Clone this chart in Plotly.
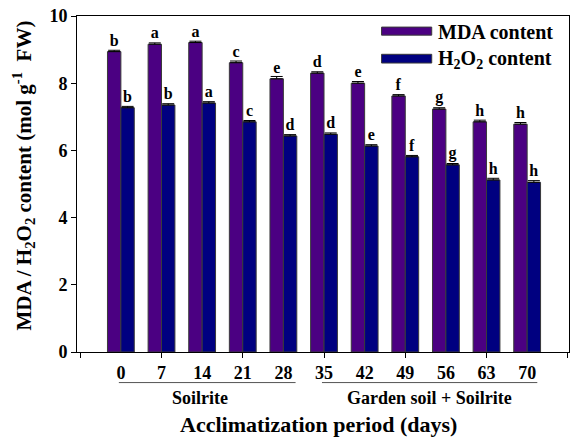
import plotly.graph_objects as go

days = ["0", "7", "14", "21", "28", "35", "42", "49", "56", "63", "70"]
mda = [8.94, 9.16, 9.21, 8.61, 8.13, 8.30, 8.00, 7.62, 7.23, 6.85, 6.78]
h2o2 = [7.27, 7.35, 7.41, 6.85, 6.43, 6.48, 6.13, 5.81, 5.57, 5.12, 5.05]
mda_err = [0.04, 0.04, 0.04, 0.05, 0.07, 0.04, 0.05, 0.04, 0.04, 0.05, 0.05]
h2o2_err = [0.04, 0.04, 0.04, 0.04, 0.04, 0.04, 0.04, 0.04, 0.04, 0.05, 0.05]
mda_letters = ["b", "a", "a", "c", "e", "d", "e", "f", "g", "h", "h"]
h2o2_letters = ["b", "b", "a", "c", "d", "d", "e", "f", "g", "h", "h"]
series_names = ["MDA content", "H<sub>2</sub>O<sub>2</sub> content"]
group_labels = ["Soilrite", "Garden soil + Soilrite"]
y_ticks = [0, 2, 4, 6, 8, 10]

PURPLE = "#4B0082"
NAVY = "#000080"
FONT = "Liberation Serif"

pos = list(range(len(days)))

fig = go.Figure()
for vals, errs, letters, color, name in [
    (mda, mda_err, mda_letters, PURPLE, series_names[0]),
    (h2o2, h2o2_err, h2o2_letters, NAVY, series_names[1]),
]:
    fig.add_trace(go.Bar(
        x=pos, y=vals, name=name,
        marker=dict(color=color, line=dict(color="#3a3a3a", width=1)),
        error_y=dict(type="data", symmetric=False, array=errs,
                     arrayminus=[0] * len(errs), color="black",
                     thickness=1, width=6),
        text=[f"<b>{t}</b>" for t in letters], textposition="outside",
        textfont=dict(family=FONT, size=16, color="black"),
        constraintext="none", cliponaxis=False, showlegend=False,
    ))

xr = [-1.08, 11.03]
fig.update_layout(
    width=574, height=438,
    margin=dict(l=77, r=5, t=16, b=86),
    paper_bgcolor="white", plot_bgcolor="white",
    barmode="group", bargap=0.34, bargroupgap=0,
    font=dict(family=FONT, color="black"),
    xaxis=dict(range=xr, tickmode="array", tickvals=pos,
               ticktext=[f"<b>{d}</b>" for d in days],
               ticks="outside", ticklen=4, tickcolor="rgba(0,0,0,0)",
               tickfont=dict(family=FONT, size=18, color="black"),
               showline=True, linecolor="black", linewidth=1, mirror=True,
               showgrid=False, zeroline=False, fixedrange=True, automargin=False),
    xaxis2=dict(range=xr, overlaying="x", anchor="y", side="bottom",
                tickmode="array", tickvals=[-1, 1, 3, 5, 7, 9, 11],
                ticks="outside", ticklen=5, tickcolor="black",
                showticklabels=False, showline=False, showgrid=False,
                zeroline=False, automargin=False),
    yaxis=dict(range=[0, 10], tickmode="array", tickvals=y_ticks,
               ticktext=[f"<b>{v}</b>" for v in y_ticks],
               ticks="outside", ticklen=5, tickcolor="black",
               tickfont=dict(family=FONT, size=18, color="black"),
               showline=True, linecolor="black", linewidth=1, mirror=True,
               showgrid=False, zeroline=False, automargin=False),
)
# invisible trace to keep tick axis active
fig.add_trace(go.Scatter(x=[xr[0]], y=[0], xaxis="x2", mode="markers",
                         marker=dict(opacity=0), showlegend=False, hoverinfo="skip"))

# y-axis title
fig.add_annotation(xref="paper", yref="paper", x=-0.108, y=0.525, textangle=-90,
                   text="<b>MDA / H<sub>2</sub>O<sub>2</sub> content (mol g<sup>-1</sup>  FW)</b>",
                   showarrow=False, font=dict(family=FONT, size=21, color="black"),
                   xanchor="center", yanchor="middle")

# group brackets and labels below the axis
for (x0, x1, xc, label) in [(-0.05, 4.3, 1.95, group_labels[0]),
                            (4.95, 10.25, 7.6, group_labels[1])]:
    fig.add_shape(type="line", xref="x", yref="paper", x0=x0, x1=x1,
                  y0=-0.091, y1=-0.091, line=dict(color="#555555", width=1))
    fig.add_annotation(xref="x", yref="paper", x=xc, y=-0.137, text=f"<b>{label}</b>",
                       showarrow=False, font=dict(family=FONT, size=18, color="black"),
                       xanchor="center", yanchor="middle")

fig.add_annotation(xref="paper", yref="paper", x=0.49, y=-0.215,
                   text="<b>Acclimatization period (days)</b>", showarrow=False,
                   font=dict(family=FONT, size=22, color="black"),
                   xanchor="center", yanchor="middle")

# legend drawn as wide swatches
for (y0, y1, yc, color, name) in [(0.943, 0.967, 0.952, PURPLE, series_names[0]),
                                  (0.860, 0.886, 0.870, NAVY, series_names[1])]:
    fig.add_shape(type="rect", xref="paper", yref="paper", x0=0.619, x1=0.721,
                  y0=y0, y1=y1, fillcolor=color, line=dict(color="#3a3a3a", width=1))
    fig.add_annotation(xref="paper", yref="paper", x=0.729, y=yc, text=f"<b>{name}</b>",
                       showarrow=False, font=dict(family=FONT, size=20, color="black"),
                       xanchor="left", yanchor="middle")

fig.write_html("out.html", config={"displayModeBar": False},
               post_script="document.body.style.margin='0';document.body.style.overflow='hidden';")
